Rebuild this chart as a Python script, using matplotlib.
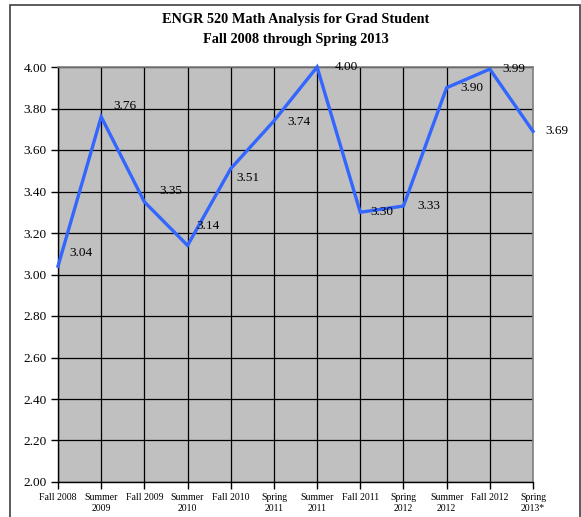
import matplotlib
matplotlib.use("Agg")
import matplotlib.pyplot as plt
from matplotlib.patches import Rectangle

terms = ["Fall 2008", "Summer\n2009", "Fall 2009", "Summer\n2010", "Fall 2010",
         "Spring\n2011", "Summer\n2011", "Fall 2011", "Spring\n2012", "Summer\n2012",
         "Fall 2012", "Spring\n2013*"]
gpa = [3.04, 3.76, 3.35, 3.14, 3.51, 3.74, 4.00, 3.30, 3.33, 3.90, 3.99, 3.69]
yticks = [2.00, 2.20, 2.40, 2.60, 2.80, 3.00, 3.20, 3.40, 3.60, 3.80, 4.00]

# label offsets in pixels (dx, dy; dy positive = up)
label_offsets = [(23, 13), (24, 11), (26, 11), (20, 19), (17, -9), (25, -1),
                 (29, 0), (22, 0), (25, 0), (25, 0), (24, 0), (24, 0)]

plt.rcParams['font.family'] = ['Liberation Serif', 'DejaVu Serif']

W, H = 581, 517
fig = plt.figure(figsize=(W / 100, H / 100), dpi=100)
fig.patch.set_facecolor("white")

# outer chart border
fig.add_artist(Rectangle((10 / W, -0.05), (580 - 10) / W, (H - 5) / H + 0.05,
                         transform=fig.transFigure, fill=False,
                         edgecolor="#404040", linewidth=1.2))

ax = fig.add_axes([58 / W, 1 - 482 / H, (533 - 58) / W, (482 - 67) / H])
ax.set_facecolor("#C0C0C0")

x = list(range(len(gpa)))
ax.plot(x, gpa, color="#3366FF", linewidth=2.4, clip_on=False, zorder=3,
        solid_joinstyle="miter")

ax.set_xlim(0, len(gpa) - 1)
ax.set_ylim(2.0, 4.0)
ax.set_yticks(yticks)
ax.set_yticklabels([f"{v:.2f}" for v in yticks], fontsize=9.5)
ax.set_xticks(x)
ax.set_xticklabels(terms, fontsize=7)

ax.grid(True, color="black", linewidth=0.9)
ax.set_axisbelow(True)

ax.tick_params(axis="y", direction="out", length=5, width=1, pad=3)
ax.tick_params(axis="x", direction="out", length=5, width=1, pad=3)

for side in ["left", "bottom"]:
    ax.spines[side].set_color("black")
    ax.spines[side].set_linewidth(1)
for side in ["top", "right"]:
    ax.spines[side].set_color("#808080")
    ax.spines[side].set_linewidth(1.2)

for xi, v, (dx, dy) in zip(x, gpa, label_offsets):
    ax.annotate(f"{v:.2f}", (xi, v), xytext=(dx * 0.72, dy * 0.72),
                textcoords="offset points", ha="center", va="center",
                fontsize=9.5, color="black", annotation_clip=False, zorder=4)

fig.text(0.509, 1 - 20 / H, "ENGR 520 Math Analysis for Grad Student",
         ha="center", va="center", fontsize=10.3, fontweight="bold")
fig.text(0.509, 1 - 40 / H, "Fall 2008 through Spring 2013",
         ha="center", va="center", fontsize=10.3, fontweight="bold")

fig.savefig("out.png", dpi=100)
